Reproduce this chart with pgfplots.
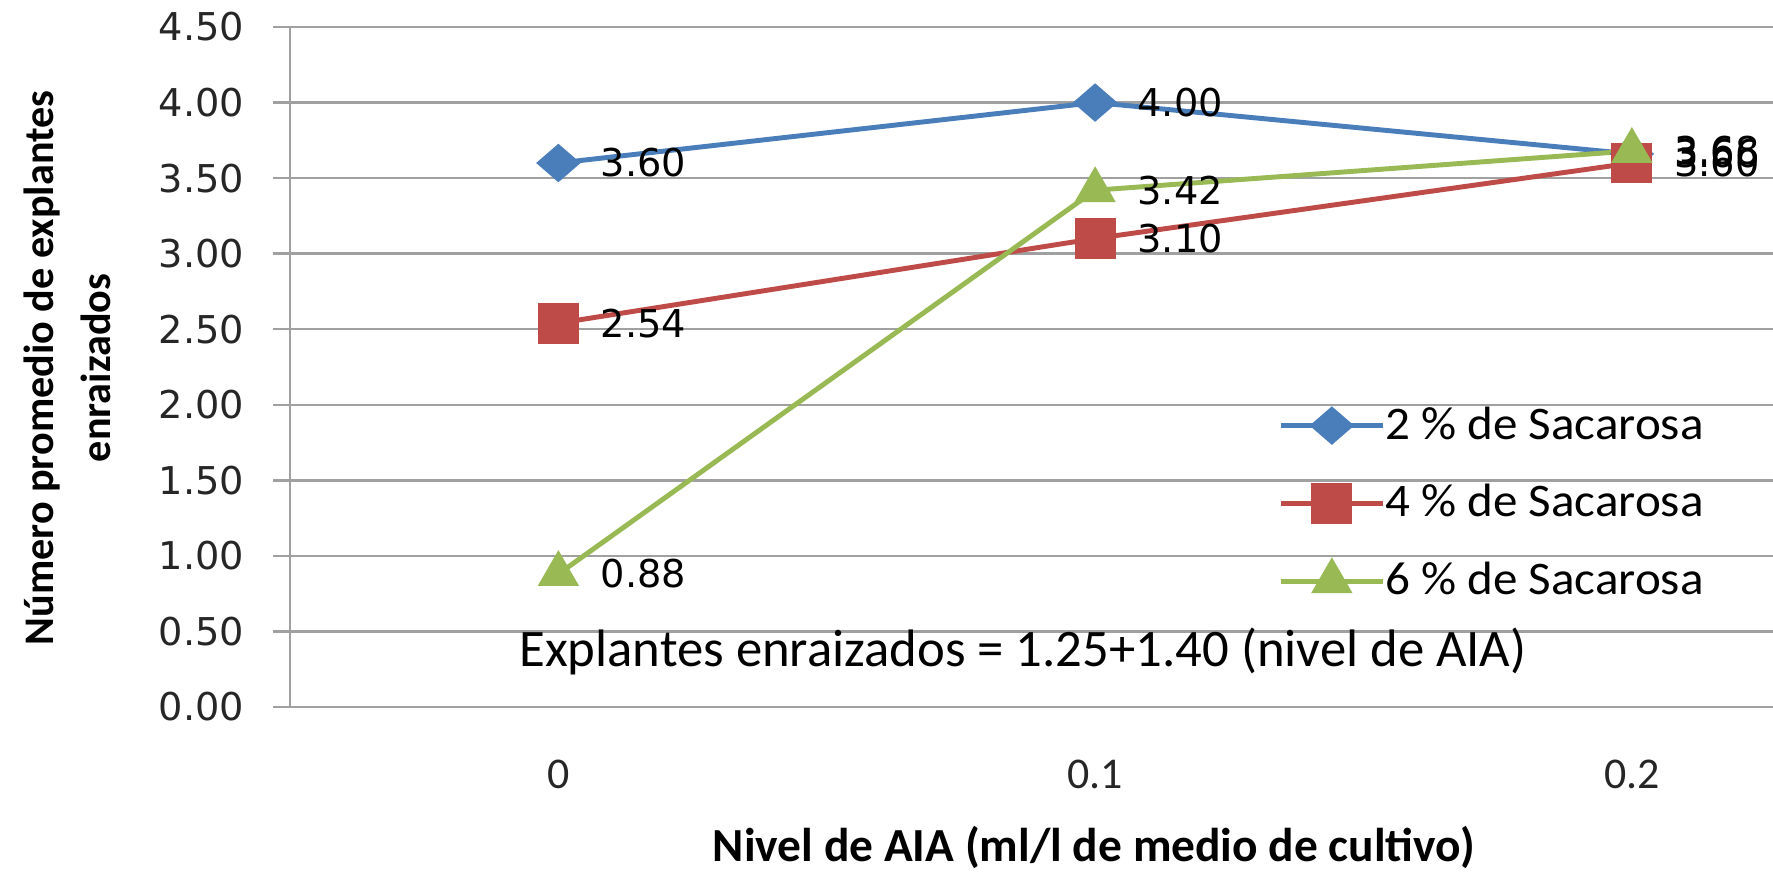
\documentclass[border=0pt]{standalone}
\usepackage{fontspec}
\setmainfont{Carlito}
\newfontfamily\dejavu{DejaVu Sans}
\newfontfamily\carlitowide[FakeStretch=1.05]{Carlito}
\usepackage{pgfplots}
\pgfplotsset{compat=1.18}
\definecolor{cblue}{HTML}{4A7EBB}
\definecolor{cred}{HTML}{BE4B48}
\definecolor{cgreen}{HTML}{98B954}
\definecolor{cgrid}{HTML}{A0A0A0}
\begin{document}
\begin{tikzpicture}
\useasboundingbox (0,0) rectangle (177.3mm,87.8mm);
\begin{axis}[
  at={(29.0mm,17.1mm)}, anchor=south west,
  scale only axis, width=148.3mm, height=68.0mm,
  xmin=-0.05, xmax=0.2263, ymin=0, ymax=4.5,
  clip=false,
  axis x line*=bottom, axis y line*=left,
  axis line style={cgrid, line width=0.85pt},
  xtick={0,0.1,0.2}, xticklabels={0,0.1,0.2},
  ytick={0,0.5,1,1.5,2,2.5,3,3.5,4,4.5},
  /pgf/number format/assume math mode=true,
  yticklabel style={/pgf/number format/fixed, /pgf/number format/fixed zerofill, /pgf/number format/precision=2,
    font=\dejavu\fontsize{10.9}{12}\selectfont, text=black!85, anchor=east, inner sep=0pt, xshift=-2.8mm},
  xticklabel style={font=\fontsize{12.5}{14}\selectfont, text=black!85, anchor=center, yshift=-5.0mm},
  tick align=outside, major tick length=1.7mm,
  ytick style={cgrid, line width=0.7pt},
  xtick style={draw=none},
  ymajorgrids, major grid style={cgrid, line width=0.7pt},
  nodes near coords={\pgfmathprintnumber[fixed,fixed zerofill,precision=2]{\pgfplotspointmeta}},
  every node near coord/.append style={font=\dejavu\fontsize{10.9}{12}\selectfont, text=black, anchor=west, inner sep=0pt, xshift=4.0mm},
  legend cell align=left,
  legend image code/.code={\draw[mark repeat=2,mark phase=2] plot coordinates {(0mm,0mm) (5.1mm,0mm) (10.2mm,0mm)};},
  legend style={at={(0.666,0.4426)}, anchor=north west, draw=none, fill=none, inner sep=0pt,
    font=\carlitowide\fontsize{13.3}{15}\selectfont, row sep=4.0mm,
    nodes={inner sep=0pt}, /tikz/every even column/.append style={column sep=0.6mm}},
]
\addplot[cblue, line width=1.4pt, mark=diamond*, mark size=1.6mm, mark options={xscale=1.54, solid}]
  coordinates {(0,3.60) (0.1,4.00) (0.2,3.66)};
\addlegendentry{2 \% de Sacarosa}
\addplot[cred, line width=1.4pt, mark=square*, mark size=1.8mm, mark options={solid}]
  coordinates {(0,2.54) (0.1,3.10) (0.2,3.60)};
\addlegendentry{4 \% de Sacarosa}
\addplot[cgreen, line width=1.4pt, mark=triangle*, mark size=1.9mm, mark options={solid}]
  coordinates {(0,0.88) (0.1,3.42) (0.2,3.68)};
\addlegendentry{6 \% de Sacarosa}
\end{axis}
\node[font=\fontsize{15}{18}\selectfont, anchor=base] at (102.3mm,21.1mm) {Explantes enraizados = 1.25+1.40 (nivel de AIA)};
\node[font=\bfseries\fontsize{13.5}{16}\selectfont, anchor=base] at (109.4mm,1.6mm) {Nivel de AIA (ml/l de medio de cultivo)};
\node[font=\bfseries\fontsize{12}{15}\selectfont, anchor=base, rotate=90] at (5.3mm,51.0mm) {Número promedio de explantes};
\node[font=\bfseries\fontsize{12}{15}\selectfont, anchor=base, rotate=90] at (11.0mm,51.0mm) {enraizados};
\end{tikzpicture}
\end{document}
